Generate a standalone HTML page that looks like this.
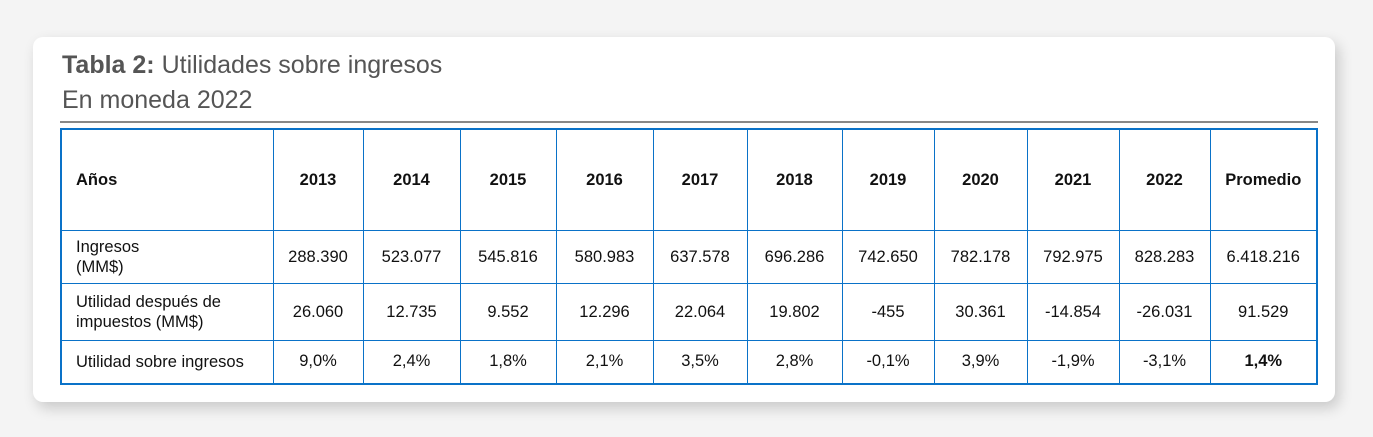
<!DOCTYPE html>
<html><head><meta charset="utf-8"><style>
body{margin:0;width:1373px;height:437px;background:#f4f4f4;position:relative;overflow:hidden;font-family:"Liberation Sans","DejaVu Sans",sans-serif;}
.card{position:absolute;left:33px;top:37px;width:1302px;height:365px;background:#fff;border-radius:10px;box-shadow:4px 6px 14px rgba(0,0,0,0.18);}
.t1{position:absolute;left:62px;top:51px;font-size:25px;color:#555;}
.t2{position:absolute;left:62px;top:86px;font-size:25px;color:#555;}
.line{position:absolute;left:60px;top:121px;width:1258px;height:2px;background:#888;}
table{position:absolute;left:60px;top:128px;border-collapse:collapse;table-layout:fixed;border:2px solid #0a72c8;}
td{border:1.5px solid #0a72c8;text-align:center;font-size:16.5px;color:#111;padding:0;}
td.l{text-align:left;padding-left:14px;line-height:20px;}
tr.h td{font-weight:bold;height:100px;}
</style></head><body>
<div class="card"></div>
<div class="t1"><b>Tabla 2:</b> Utilidades sobre ingresos</div>
<div class="t2">En moneda 2022</div>
<div class="line"></div>
<table>
<colgroup><col style="width:212px"><col style="width:90px"><col style="width:97px"><col style="width:96px"><col style="width:97px"><col style="width:94px"><col style="width:95px"><col style="width:92px"><col style="width:93px"><col style="width:92px"><col style="width:91px"><col style="width:107px"></colgroup>
<tr class="h"><td class="l">Años</td><td>2013</td><td>2014</td><td>2015</td><td>2016</td><td>2017</td><td>2018</td><td>2019</td><td>2020</td><td>2021</td><td>2022</td><td>Promedio</td></tr>
<tr style="height:53px"><td class="l">Ingresos<br>(MM$)</td><td>288.390</td><td>523.077</td><td>545.816</td><td>580.983</td><td>637.578</td><td>696.286</td><td>742.650</td><td>782.178</td><td>792.975</td><td>828.283</td><td>6.418.216</td></tr>
<tr style="height:57px"><td class="l">Utilidad después de<br>impuestos (MM$)</td><td>26.060</td><td>12.735</td><td>9.552</td><td>12.296</td><td>22.064</td><td>19.802</td><td>-455</td><td>30.361</td><td>-14.854</td><td>-26.031</td><td>91.529</td></tr>
<tr style="height:43px"><td class="l">Utilidad sobre ingresos</td><td>9,0%</td><td>2,4%</td><td>1,8%</td><td>2,1%</td><td>3,5%</td><td>2,8%</td><td>-0,1%</td><td>3,9%</td><td>-1,9%</td><td>-3,1%</td><td><b>1,4%</b></td></tr>
</table>
</body></html>
